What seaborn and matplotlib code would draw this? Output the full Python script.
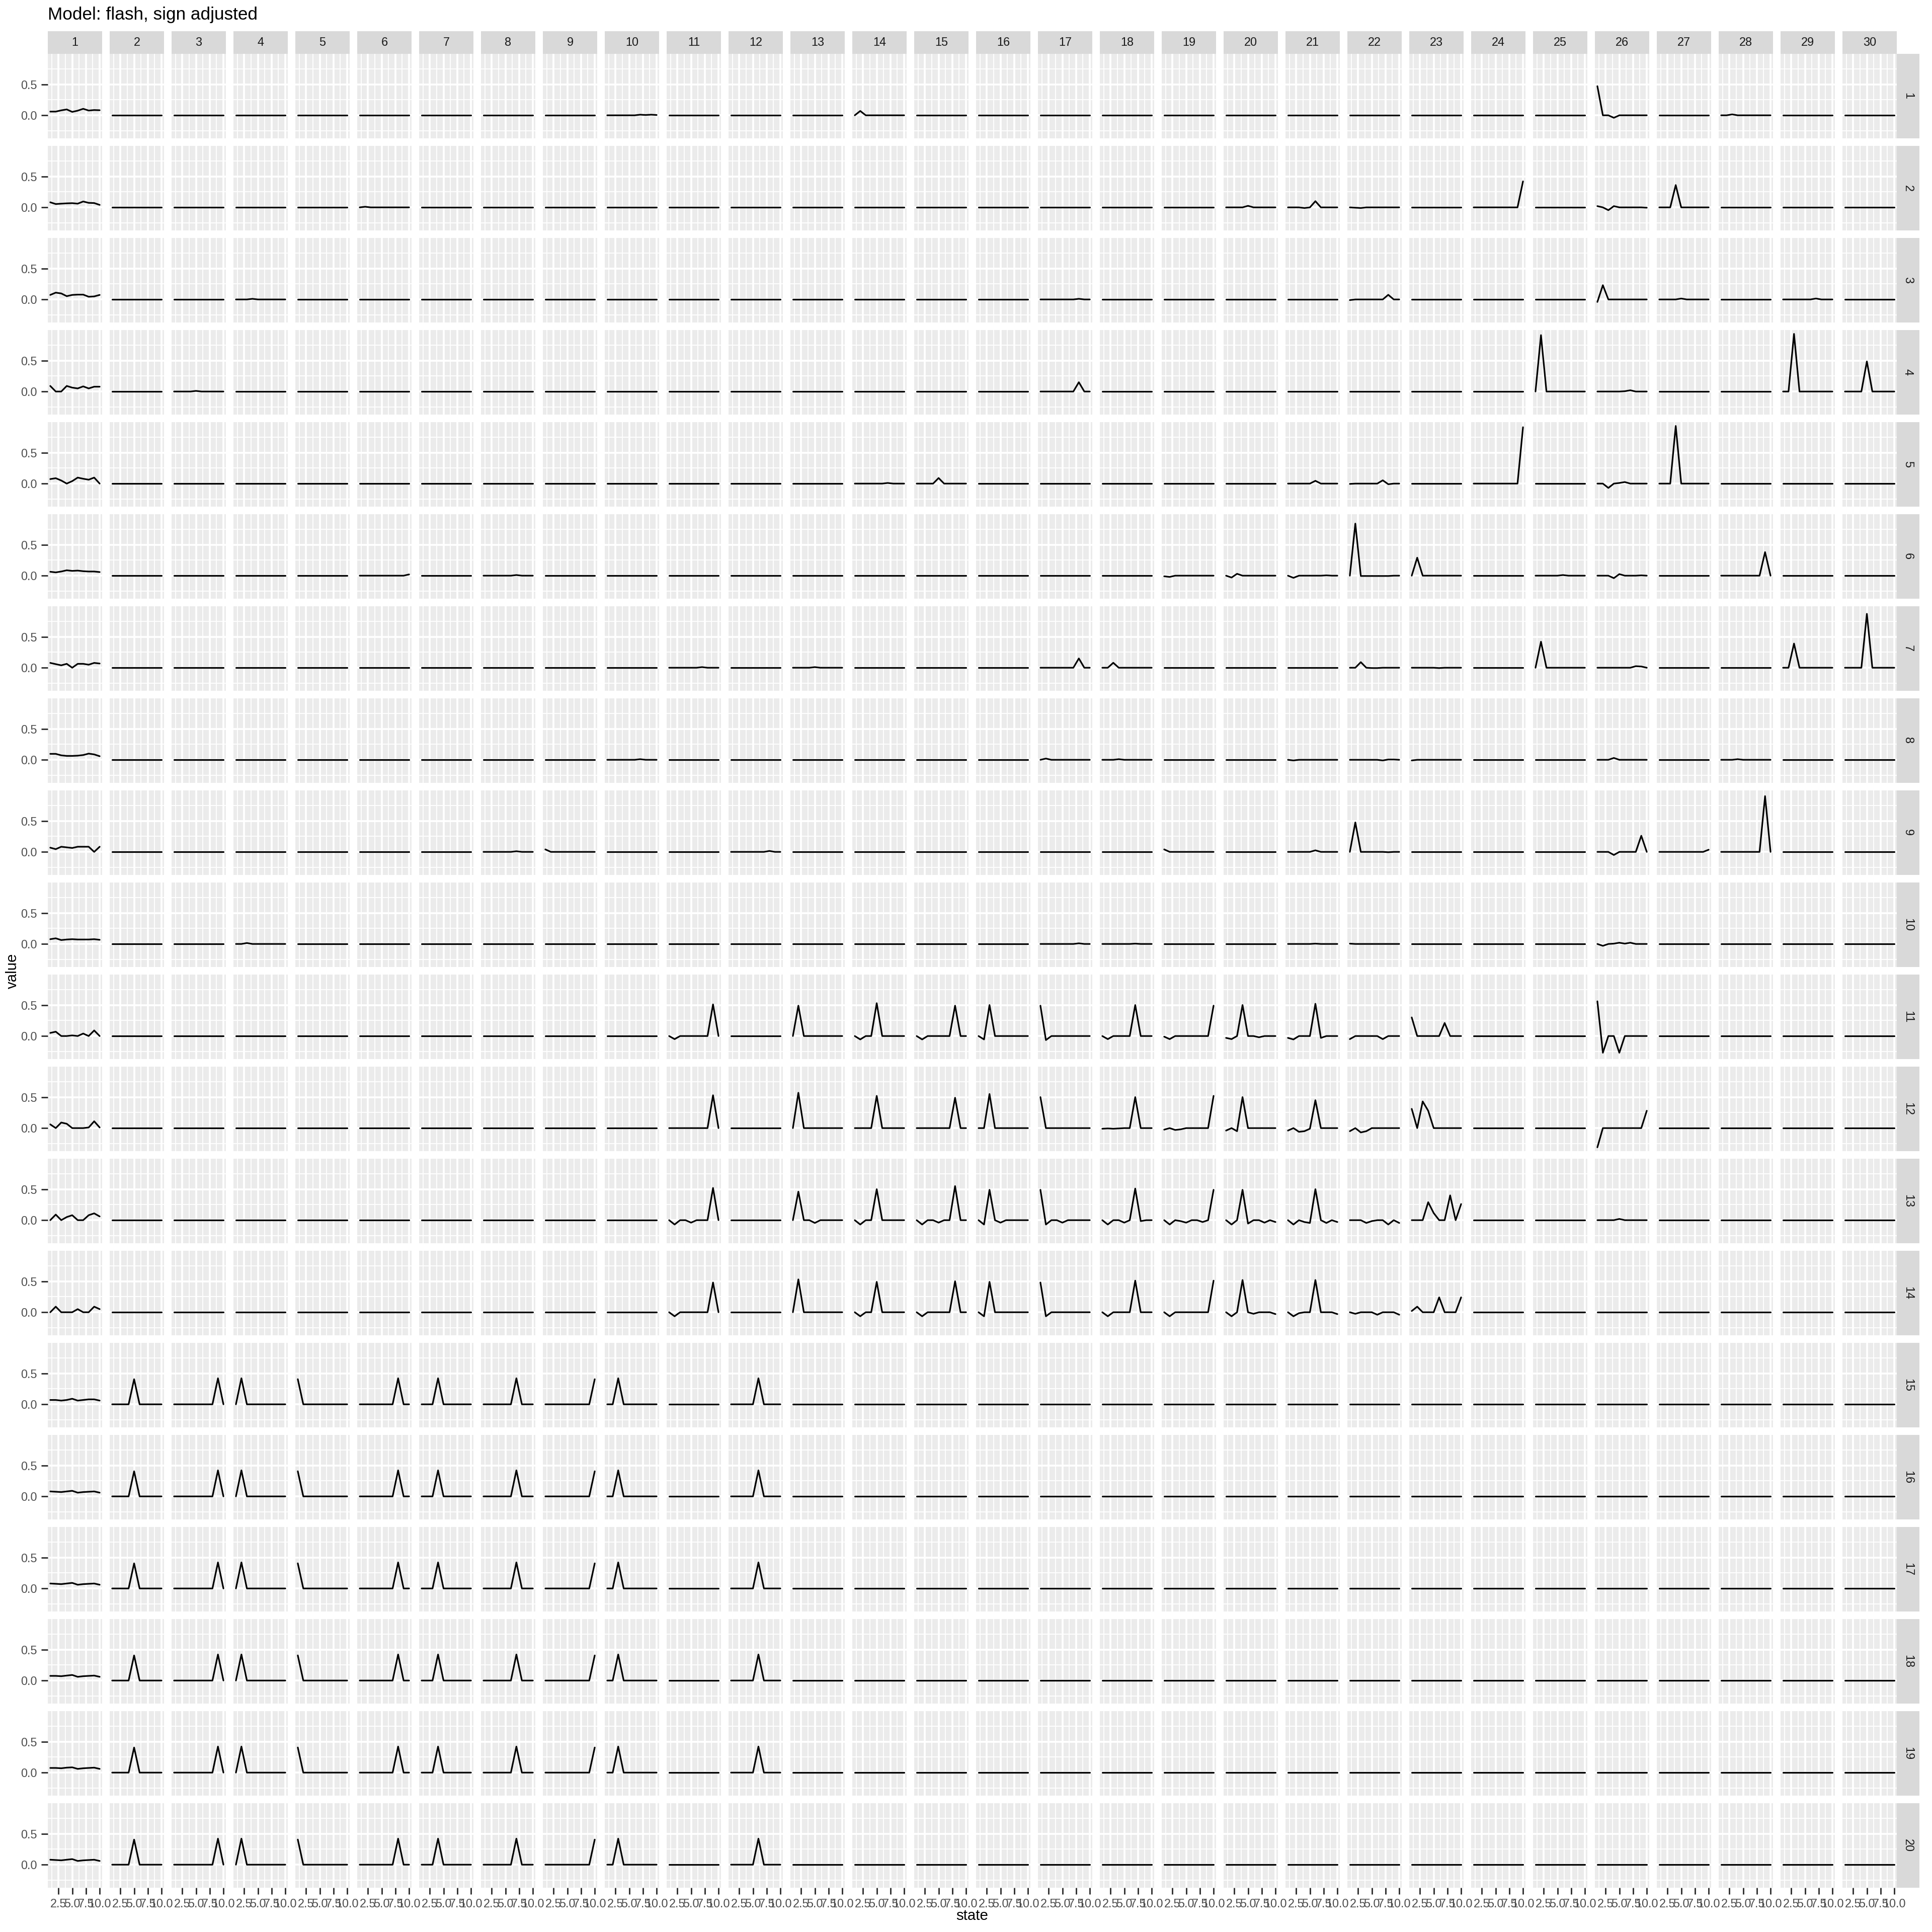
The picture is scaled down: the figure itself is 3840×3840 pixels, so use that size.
import numpy as np
import pandas as pd
import matplotlib
matplotlib.use("Agg")
import matplotlib.pyplot as plt
from matplotlib.patches import Rectangle
import seaborn as sns

# ============================================================================
# DATA (loadings not listed are flat at 0)
# ============================================================================

TITLE = "Model: flash, sign adjusted"
STATES = [1, 2, 3, 4, 5, 6, 7, 8, 9, 10]
FACTORS = list(range(1, 21))
LOADINGS = list(range(1, 31))

# first loading column, one list per factor
loading1 = [
    [0.06, 0.06, 0.08, 0.095, 0.055, 0.075, 0.105, 0.077, 0.085, 0.082],
    [0.082, 0.054, 0.06, 0.065, 0.068, 0.06, 0.095, 0.073, 0.07, 0.04],
    [0.073, 0.11, 0.097, 0.053, 0.073, 0.078, 0.078, 0.044, 0.049, 0.073],
    [0.09, 0.0, 0.0, 0.09, 0.063, 0.05, 0.083, 0.05, 0.078, 0.078],
    [0.073, 0.087, 0.05, 0.0, 0.04, 0.097, 0.078, 0.063, 0.097, 0.0],
    [0.063, 0.053, 0.067, 0.087, 0.077, 0.082, 0.072, 0.067, 0.067, 0.058],
    [0.078, 0.058, 0.039, 0.063, 0.0, 0.063, 0.063, 0.049, 0.078, 0.068],
    [0.096, 0.096, 0.072, 0.063, 0.063, 0.067, 0.077, 0.1, 0.087, 0.058],
    [0.068, 0.044, 0.083, 0.073, 0.063, 0.083, 0.083, 0.083, 0.0, 0.083],
    [0.077, 0.091, 0.063, 0.072, 0.077, 0.072, 0.072, 0.072, 0.077, 0.067],
    [0.05, 0.07, 0.0, 0.0, 0.01, 0.0, 0.04, 0.0, 0.09, 0.0],
    [0.06, 0.0, 0.09, 0.07, 0.0, 0.0, 0.0, 0.01, 0.11, 0.01],
    [0.0, 0.09, 0.0, 0.05, 0.08, 0.0, 0.0, 0.08, 0.11, 0.06],
    [0.0, 0.09, 0.0, 0.0, 0.0, 0.05, 0.0, 0.0, 0.09, 0.05],
    [0.07, 0.07, 0.06, 0.07, 0.09, 0.06, 0.07, 0.08, 0.08, 0.06],
    [0.08, 0.075, 0.07, 0.08, 0.09, 0.06, 0.07, 0.075, 0.08, 0.06],
    [0.08, 0.075, 0.07, 0.08, 0.09, 0.06, 0.07, 0.075, 0.08, 0.06],
    [0.075, 0.075, 0.07, 0.08, 0.09, 0.06, 0.07, 0.075, 0.08, 0.06],
    [0.075, 0.075, 0.07, 0.08, 0.085, 0.06, 0.07, 0.075, 0.08, 0.06],
    [0.08, 0.075, 0.07, 0.08, 0.09, 0.06, 0.07, 0.075, 0.08, 0.06],
]

factor_01 = {
    10: [0, 0, 0, 0, 0, 0, 0.01, 0.005, 0.01, 0.005],
    14: [0, 0.07, 0, 0, 0, 0, 0, 0, 0, 0],
    26: [0.47, 0, 0, -0.04, 0, 0, 0, 0, 0, 0],
    28: [0, 0, 0.015, 0, 0, 0, 0, 0, 0, 0],
}
factor_02 = {
    6: [0, 0.01, 0, 0, 0, 0, 0, 0, 0, 0],
    20: [0, 0, 0, 0, 0.025, 0, 0, 0, 0, 0],
    21: [0, 0, 0, -0.01, 0, 0.1, 0, 0, 0, 0],
    22: [0, -0.005, -0.01, 0, 0, 0, 0, 0, 0, 0],
    24: [0, 0, 0, 0, 0, 0, 0, 0, 0, 0.42],
    26: [0.02, 0, -0.045, 0.02, 0, 0, 0, 0, 0, -0.005],
    27: [0, 0, 0, 0.36, 0, 0, 0, 0, 0, 0],
}
factor_03 = {
    4: [0, 0, 0, 0.01, 0, 0, 0, 0, 0, 0],
    17: [0, 0, 0, 0, 0, 0, 0, 0.01, 0, 0],
    22: [-0.01, 0, 0, 0, 0, 0, 0, 0.075, 0, 0],
    26: [-0.04, 0.23, 0, 0, 0, 0, 0, 0, 0, 0],
    27: [0, 0, 0, 0, 0.015, 0, 0, 0, 0, 0],
    29: [0, 0, 0, 0, 0, 0, 0.015, 0, 0, 0],
}
factor_04 = {
    3: [0, 0, 0, 0, 0.01, 0, 0, 0, 0, 0],
    17: [0, 0, 0, 0, 0, 0, 0, 0.15, 0, 0],
    25: [0, 0.91, 0, 0, 0, 0, 0, 0, 0, 0],
    26: [0, 0, 0, 0, 0, 0.005, 0.02, 0, 0, 0],
    29: [0, 0, 0.93, 0, 0, 0, 0, 0, 0, 0],
    30: [0, 0, 0, 0, 0.485, 0, 0, 0, 0, 0],
}
factor_05 = {
    14: [0, 0, 0, 0, 0, 0, 0.01, 0, 0, 0],
    15: [0, 0, 0, 0, 0.09, 0, 0, 0, 0, 0],
    21: [0, 0, 0, 0, 0, 0.045, 0, 0, 0, 0],
    22: [-0.005, 0, 0, 0, 0, 0, 0.053, -0.01, 0, 0],
    24: [0, 0, 0, 0, 0, 0, 0, 0, 0, 0.91],
    26: [0, 0, -0.07, 0, 0.01, 0.025, 0, 0, 0, 0],
    27: [0, 0, 0, 0.93, 0, 0, 0, 0, 0, 0],
}
factor_06 = {
    6: [0, 0, 0, 0, 0, 0, 0, 0, 0, 0.02],
    8: [0, 0, 0, 0, 0, 0, 0.01, 0, 0, 0],
    19: [-0.01, -0.02, 0, 0, 0, 0, 0, 0, 0, 0],
    20: [0, -0.03, 0.03, 0, 0, 0, 0, 0, 0, 0],
    21: [0, -0.035, 0, 0, 0, 0, 0, 0.005, 0, 0],
    22: [0, 0.84, -0.005, -0.005, -0.005, -0.005, -0.005, -0.005, 0, 0],
    23: [0, 0.29, 0, 0, 0, 0, 0, 0, 0, 0],
    25: [0, 0, 0, 0, 0, 0.01, 0, 0, 0, 0],
    26: [0, 0, 0, -0.04, 0.025, 0, 0, 0, 0.005, 0],
    28: [0, 0, 0, 0, 0, 0, 0, 0, 0.38, 0],
}
factor_07 = {
    11: [0, 0, 0, 0, 0, 0, 0.01, 0, 0, 0],
    13: [0, 0, 0, 0, 0.01, 0, 0, 0, 0, 0],
    17: [0, 0, 0, 0, 0, 0, 0, 0.15, 0, 0],
    18: [0, 0, 0.08, 0, 0, 0, 0, 0, 0, 0],
    22: [0, 0, 0.09, 0, -0.005, -0.005, 0, 0, 0, 0],
    23: [0, 0, 0, 0, 0, -0.005, 0, 0, 0, 0],
    25: [0, 0.42, 0, 0, 0, 0, 0, 0, 0, 0],
    26: [0, 0, 0, 0, 0, 0, 0, 0.025, 0.02, 0],
    29: [0, 0, 0.39, 0, 0, 0, 0, 0, 0, 0],
    30: [0, 0, 0, 0, 0.87, 0, 0, 0, 0, 0],
}
factor_08 = {
    10: [0, 0, 0, 0, 0, 0, 0.01, 0, 0, 0],
    17: [0, 0.02, 0, 0, 0, 0, 0, 0, 0, 0],
    18: [0, 0, 0, 0.01, 0, 0, 0, 0, 0, 0],
    21: [0, -0.01, 0, 0, 0, 0, 0, 0, 0, 0],
    22: [0, 0, 0, 0, 0, 0, -0.01, 0.005, 0.005, 0],
    23: [-0.01, 0, 0, 0, 0, 0, 0, 0, 0, 0],
    26: [0, 0, 0, 0.03, 0, 0, 0, 0, 0, 0],
    28: [0, 0, 0, 0.01, 0, 0, 0, 0, 0, 0],
}
factor_09 = {
    8: [0, 0, 0, 0, 0, 0, 0.01, 0, 0, 0],
    9: [0.04, 0, 0, 0, 0, 0, 0, 0, 0, 0],
    12: [0, 0, 0, 0, 0, 0, 0, 0.015, 0, 0],
    19: [0.04, 0, 0, 0, 0, 0, 0, 0, 0, 0],
    21: [0, 0, 0, 0, 0, 0.025, 0, 0, 0, 0],
    22: [0, 0.475, 0, 0, 0, 0, 0, -0.005, 0, 0],
    26: [0, 0, 0, -0.05, 0, 0, 0, 0, 0.26, 0],
    27: [0, 0, 0, 0, 0, 0, 0, 0, 0, 0.035],
    28: [0, 0, 0, 0, 0, 0, 0, 0, 0.9, 0],
}
factor_10 = {
    4: [0, 0, 0.015, 0, 0, 0, 0, 0, 0, 0],
    17: [0, 0, 0, 0, 0, 0, 0, 0.01, 0, 0],
    18: [0, 0, 0, 0, 0, 0, 0.005, 0, 0, 0],
    21: [0, 0, 0, 0, 0, 0.005, 0, 0, 0, 0],
    22: [0.005, 0, 0, 0, 0, 0, 0, 0, 0, 0],
    26: [0, -0.03, 0, 0.005, 0.02, 0.005, 0.02, 0, 0, 0],
}
factor_11 = {
    11: [0, -0.05, 0, 0, 0, 0, 0, 0, 0.51, 0],
    13: [0, 0.49, 0, 0, 0, 0, 0, 0, 0, 0],
    14: [0, -0.055, 0, 0, 0.53, 0, 0, 0, 0, 0],
    15: [0, -0.055, 0, 0, 0, 0, 0, 0.49, 0, 0],
    16: [0, -0.055, 0.5, 0, 0, 0, 0, 0, 0, 0],
    17: [0.49, -0.065, 0, 0, 0, 0, 0, 0, 0, 0],
    18: [0, -0.05, 0, 0, 0, 0, 0.5, 0, 0, 0],
    19: [-0.01, -0.05, 0, 0, 0, 0, 0, 0, 0, 0.49],
    20: [-0.03, -0.05, 0, 0.5, 0, 0, -0.02, 0, 0, 0],
    21: [-0.03, -0.055, 0, 0, 0, 0.52, -0.03, 0, 0, 0],
    22: [-0.05, 0, 0, 0, 0, 0, -0.05, 0, 0, 0],
    23: [0.3, 0, 0, 0, 0, 0, 0.21, 0, 0, 0],
    26: [0.56, -0.27, 0, 0, -0.27, 0, 0, 0, 0, 0],
}
factor_12 = {
    11: [0, 0, 0, 0, 0, 0, 0, 0, 0.53, 0],
    13: [0, 0.57, 0, 0, 0, 0, 0, 0, 0, 0],
    14: [0, 0, 0, 0, 0.52, 0, 0, 0, 0, 0],
    15: [0, 0, 0, 0, 0, 0, 0, 0.49, 0, 0],
    16: [0, 0, 0.55, 0, 0, 0, 0, 0, 0, 0],
    17: [0.5, 0, 0, 0, 0, 0, 0, 0, 0, 0],
    18: [-0.01, -0.005, -0.01, -0.005, 0, 0, 0.5, 0, 0, 0],
    19: [-0.025, 0, -0.03, -0.02, 0, 0, 0, 0, 0, 0.52],
    20: [-0.04, 0, -0.05, 0.5, 0, 0, 0, 0, 0, 0],
    21: [-0.04, 0, -0.06, -0.05, -0.01, 0.45, 0, 0, 0, 0],
    22: [-0.05, 0, -0.07, -0.05, 0, 0, 0, 0, 0, 0],
    23: [0.31, 0, 0.43, 0.28, 0, 0, 0, 0, 0, 0],
    26: [-0.31, 0, 0, 0, 0, 0, 0, 0, 0, 0.28],
}
factor_13 = {
    11: [0, -0.07, 0, 0, -0.04, 0, 0, 0, 0.52, 0],
    13: [0, 0.46, 0, 0, -0.045, 0, 0, 0, 0, 0],
    14: [0, -0.07, 0, 0, 0.5, 0, 0, 0, 0, 0],
    15: [0, -0.07, 0, 0, -0.04, 0, 0, 0.55, 0, 0],
    16: [0, -0.07, 0.49, 0, -0.04, 0, 0, 0, 0, 0],
    17: [0.49, -0.07, 0, 0, -0.04, 0, 0, 0, 0, 0],
    18: [0, -0.07, 0, 0, -0.04, 0, 0.51, -0.015, 0, 0],
    19: [0, -0.07, 0, -0.015, -0.04, 0, 0, -0.03, 0, 0.49],
    20: [0, -0.07, 0, 0.49, -0.055, 0, 0, -0.04, 0, -0.03],
    21: [0, -0.07, 0, -0.03, -0.045, 0.5, 0, -0.045, 0, -0.03],
    22: [0, 0, 0, -0.045, -0.015, 0, 0, -0.07, 0, -0.045],
    23: [0, 0, 0, 0.29, 0.115, 0, 0, 0.4, 0, 0.26],
    26: [0, 0, 0, 0, 0.02, 0, 0, 0, 0, 0],
}
factor_14 = {
    11: [0, -0.065, 0, 0, 0, 0, 0, 0, 0.48, 0],
    13: [0, 0.53, 0, 0, 0, 0, 0, 0, 0, 0],
    14: [0, -0.065, 0, 0, 0.49, 0, 0, 0, 0, 0],
    15: [0, -0.065, 0, 0, 0, 0, 0, 0.5, 0, 0],
    16: [0, -0.065, 0.49, 0, 0, 0, 0, 0, 0, 0],
    17: [0.48, -0.065, 0, 0, 0, 0, 0, 0, 0, 0],
    18: [0, -0.065, 0, 0, 0, 0, 0.51, 0, 0, 0],
    19: [0, -0.065, 0, 0, 0, 0, 0, 0, 0, 0.51],
    20: [0, -0.065, 0, 0.52, 0, -0.025, 0, 0, 0, -0.03],
    21: [0, -0.065, -0.015, 0, 0, 0.52, 0, 0, 0, -0.03],
    22: [0, -0.025, 0, 0, 0, -0.04, 0, 0, 0, -0.04],
    23: [0.02, 0.09, 0, 0, 0, 0.24, 0, 0, 0, 0.24],
}
# factors 15-20 share the same single-state spikes
factor_15_20 = {
    2: [0, 0, 0, 0, 0.405, 0, 0, 0, 0, 0],
    3: [0, 0, 0, 0, 0, 0, 0, 0, 0.42, 0],
    4: [0, 0.42, 0, 0, 0, 0, 0, 0, 0, 0],
    5: [0.405, 0, 0, 0, 0, 0, 0, 0, 0, 0],
    6: [0, 0, 0, 0, 0, 0, 0, 0.42, 0, 0],
    7: [0, 0, 0, 0.42, 0, 0, 0, 0, 0, 0],
    8: [0, 0, 0, 0, 0, 0, 0.42, 0, 0, 0],
    9: [0, 0, 0, 0, 0, 0, 0, 0, 0, 0.405],
    10: [0, 0, 0.42, 0, 0, 0, 0, 0, 0, 0],
    12: [0, 0, 0, 0, 0, 0.42, 0, 0, 0, 0],
}

sparse_by_factor = [
    factor_01, factor_02, factor_03, factor_04, factor_05,
    factor_06, factor_07, factor_08, factor_09, factor_10,
    factor_11, factor_12, factor_13, factor_14,
    factor_15_20, factor_15_20, factor_15_20,
    factor_15_20, factor_15_20, factor_15_20,
]

# ============================================================================
# LONG TABLE
# ============================================================================

records = []
for f, sparse in zip(FACTORS, sparse_by_factor):
    for k in LOADINGS:
        vals = loading1[f - 1] if k == 1 else sparse.get(k, [0.0] * len(STATES))
        for s, v in zip(STATES, vals):
            records.append((f, k, s, v))
df = pd.DataFrame(records, columns=["factor", "loading", "state", "value"])

# ============================================================================
# PLOT (ggplot-like facet grid, built by hand to keep it fast)
# ============================================================================

sns.set_style("darkgrid", {"axes.facecolor": "#EBEBEB", "grid.color": "white"})
plt.rcParams["font.family"] = ["Liberation Sans", "DejaVu Sans"]
plt.rcParams.update({
    "xtick.labelsize": 8.8, "ytick.labelsize": 8.8,
    "xtick.color": "#333333", "ytick.color": "#333333",
    "xtick.labelcolor": "#4D4D4D", "ytick.labelcolor": "#4D4D4D",
    "xtick.major.size": 5, "ytick.major.size": 5,
    "xtick.major.width": 1.1, "ytick.major.width": 1.1,
    "xtick.major.pad": 3, "ytick.major.pad": 3,
    "xtick.minor.size": 0, "ytick.minor.size": 0,
    "xtick.bottom": True, "ytick.left": True,
})

W = H = 3840
DPI = 192
P_LEFT, P_RIGHT, P_TOP, P_BOTTOM = 95, 3770, 107, 3752
PANEL_W, PANEL_H, STRIP = 108, 168, 45

fig, axes = plt.subplots(
    len(FACTORS), len(LOADINGS), sharex=True, sharey=True,
    figsize=(W / DPI, H / DPI),
    gridspec_kw=dict(left=P_LEFT / W, right=P_RIGHT / W,
                     top=1 - P_TOP / H, bottom=1 - P_BOTTOM / H,
                     wspace=15 / PANEL_W, hspace=15 / PANEL_H),
)

x0, x1 = min(STATES), max(STATES)
xpad = 0.05 * (x1 - x0)
y0, y1 = df["value"].min(), df["value"].max()
ypad = 0.05 * (y1 - y0)

ref = axes[0, 0]
ref.set_xlim(x0 - xpad, x1 + xpad)
ref.set_ylim(y0 - ypad, y1 + ypad)
ref.set_xticks([2.5, 5.0, 7.5, 10.0], ["2.5", "5.0", "7.5", "10.0"])
ref.set_xticks([1.25, 3.75, 6.25, 8.75], minor=True)
ref.set_yticks([0.0, 0.5], ["0.0", "0.5"])
ref.set_yticks([-0.25, 0.25, 0.75], minor=True)

for (f, k), panel in df.groupby(["factor", "loading"], sort=True):
    i, j = f - 1, k - 1
    ax = axes[i, j]
    sns.lineplot(x=panel["state"].to_numpy(), y=panel["value"].to_numpy(), ax=ax,
                 color="black", linewidth=1.2, estimator=None, errorbar=None,
                 sort=False, legend=False)
    ax.grid(which="major", color="white", linewidth=1.4)
    ax.grid(which="minor", color="white", linewidth=0.7)
    ax.set_axisbelow(True)
    for sp in ax.spines.values():
        sp.set_visible(False)
    if i != len(FACTORS) - 1:
        ax.tick_params(axis="x", bottom=False, labelbottom=False)
    if j != 0:
        ax.tick_params(axis="y", left=False, labelleft=False)

    if i == 0:
        h = STRIP / PANEL_H
        ax.add_patch(Rectangle((0, 1), 1, h, transform=ax.transAxes,
                               facecolor="#D9D9D9", edgecolor="none", clip_on=False))
        ax.text(0.5, 1 + h / 2, str(k), transform=ax.transAxes, ha="center",
                va="center", fontsize=8.8, color="#1A1A1A")
    if j == len(LOADINGS) - 1:
        w = STRIP / PANEL_W
        ax.add_patch(Rectangle((1, 0), w, 1, transform=ax.transAxes,
                               facecolor="#D9D9D9", edgecolor="none", clip_on=False))
        ax.text(1 + w / 2, 0.5, str(f), transform=ax.transAxes, ha="center",
                va="center", rotation=-90, fontsize=8.8, color="#1A1A1A")

fig.text(P_LEFT / W, 1 - 30 / H, TITLE, ha="left", va="center", fontsize=13.2, color="black")
fig.text((P_LEFT + P_RIGHT) / 2 / W, 1 - 3808 / H, "state", ha="center", va="center",
         fontsize=11, color="black")
fig.text(25 / W, 1 - (P_TOP + P_BOTTOM) / 2 / H, "value", ha="center", va="center",
         rotation=90, fontsize=11, color="black")

fig.savefig("out.png", dpi=DPI, facecolor="white")
